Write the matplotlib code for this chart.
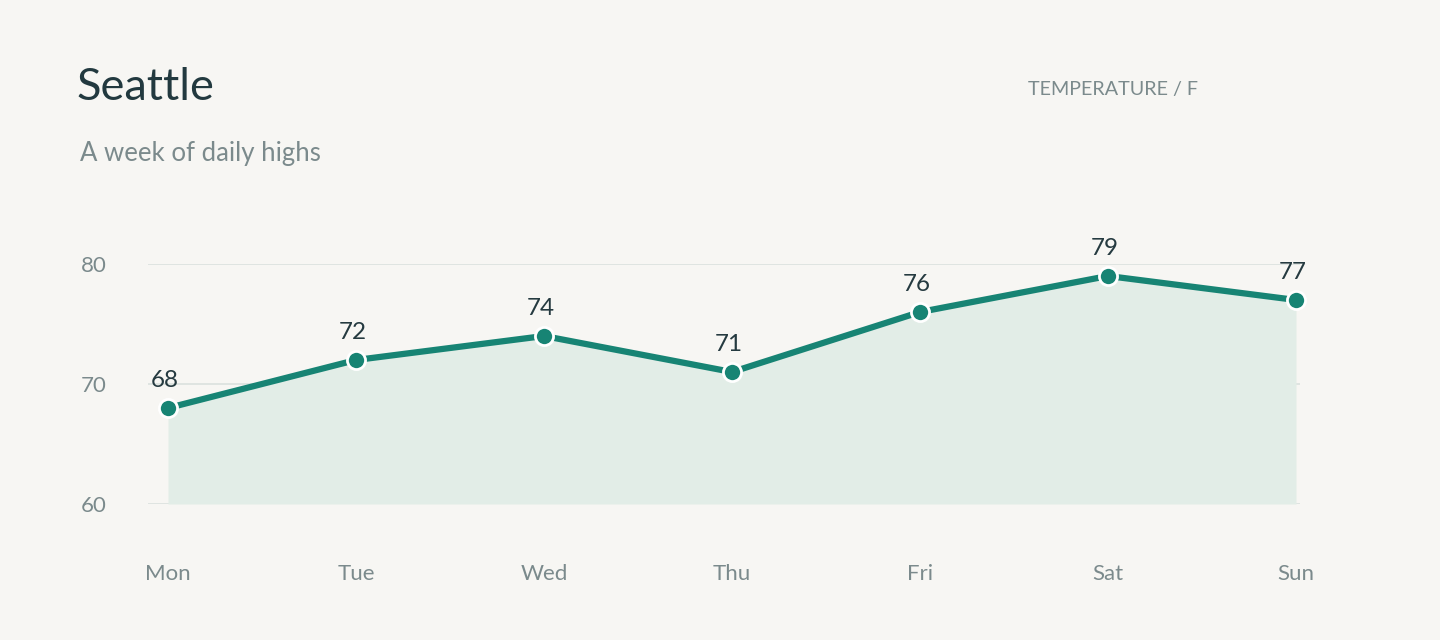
import matplotlib
matplotlib.use("Agg")
import matplotlib.pyplot as plt

days = ["Mon", "Tue", "Wed", "Thu", "Fri", "Sat", "Sun"]
highs = [68, 72, 74, 71, 76, 79, 77]
yticks = [60, 70, 80]

plt.rcParams['font.family'] = ['Lato', 'DejaVu Sans']
bg = "#f7f6f3"
teal = "#178474"
fig = plt.figure(figsize=(14.4, 6.4), dpi=100, facecolor=bg)
ax = fig.add_axes([148/1440, 136/640, 1152/1440, 240/640], facecolor=bg)
x = list(range(len(days)))
ax.set_xlim(-20/188, 6 + 4/188)
ax.set_ylim(60, 80)
ax.fill_between(x, 60, highs, color="#e2ede7", lw=0, zorder=1)
ax.plot(x, highs, color=teal, lw=4.5, zorder=3, clip_on=False, solid_capstyle="round")
ax.scatter(x, highs, s=170, color=teal, edgecolor="white", linewidth=2, zorder=4, clip_on=False)
for xi, v in zip(x, highs):
    ax.annotate(str(v), (xi, v), xytext=(-2, 12), textcoords="offset points",
                ha="center", va="bottom", fontsize=17.5, color="#253a40")
for yv in yticks:
    ax.axhline(yv, color="#dde3e0", lw=1.3, zorder=0)
ax.set_yticks(yticks)
ax.set_xticks(x, days)
ax.tick_params(length=0, labelsize=16, labelcolor="#7b8a8c")
ax.tick_params(axis="x", pad=43)
ax.tick_params(axis="y", pad=30)
for s in ax.spines.values():
    s.set_visible(False)
fig.text(77/1440, 1 - 87/640, "Seattle", fontsize=32.5, color="#22393f", va="center")
fig.text(80/1440, 1 - 153/640, "A week of daily highs", fontsize=18.5, color="#7b8a8c", va="center")
fig.text(1028/1440, 1 - 89/640, "TEMPERATURE / F", fontsize=14.2, color="#7b8a8c", va="center")
fig.savefig("out.png", dpi=100, facecolor=bg)
